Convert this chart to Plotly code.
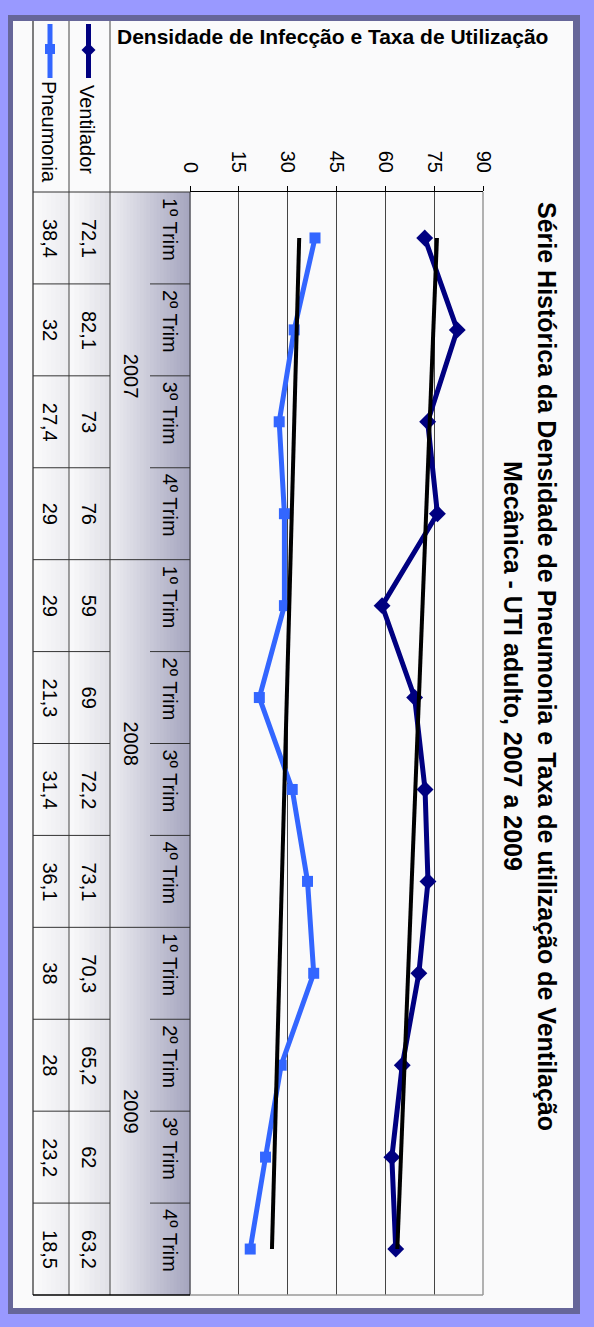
import numpy as np
import plotly.graph_objects as go

# ---------------- data ----------------
categories = ["1º Trim", "2º Trim", "3º Trim", "4º Trim"] * 3
years = ["2007", "2008", "2009"]
ventilador = [72.1, 82.1, 73, 76, 59, 69, 72.2, 73.1, 70.3, 65.2, 62, 63.2]
pneumonia = [38.4, 32, 27.4, 29, 29, 21.3, 31.4, 36.1, 38, 28, 23.2, 18.5]
value_ticks = [0, 15, 30, 45, 60, 75, 90]
title_top = "Densidade de Infecção e Taxa de Utilização"
title_l1 = "Série Histórica da Densidade de Pneumonia e Taxa de utilização de Ventilação"
title_l2 = "Mecânica - UTI adulto, 2007 a 2009"

W, H = 594, 1327
FONT = "Liberation Sans, Arial, sans-serif"
NAVY = "#000080"
BLUE = "#3366ff"

def px(x):
    return x / W

def py(y):
    return 1 - y / H

idx = list(range(1, len(categories) + 1))
n = len(idx)

# linear trend lines (as the spreadsheet's trendline)
kv = np.polyfit(idx, ventilador, 1)
kp = np.polyfit(idx, pneumonia, 1)
trend_v = np.polyval(kv, idx)
trend_p = np.polyval(kp, idx)

PL, PR, PT, PB = 190, 483, 192, 1295

fig = go.Figure()
fig.add_trace(go.Scatter(x=ventilador, y=idx, mode="lines+markers", name="Ventilador",
                         line=dict(color=NAVY, width=5),
                         marker=dict(symbol="diamond", size=13, color=NAVY)))
fig.add_trace(go.Scatter(x=pneumonia, y=idx, mode="lines+markers", name="Pneumonia",
                         line=dict(color=BLUE, width=5),
                         marker=dict(symbol="square", size=11, color=BLUE)))
fig.add_trace(go.Scatter(x=trend_v, y=idx, mode="lines", line=dict(color="black", width=4),
                         showlegend=False, hoverinfo="skip"))
fig.add_trace(go.Scatter(x=trend_p, y=idx, mode="lines", line=dict(color="black", width=4),
                         showlegend=False, hoverinfo="skip"))

shapes = []

def rect(x0, y0, x1, y1, fill, layer="below"):
    shapes.append(dict(type="rect", xref="paper", yref="paper",
                       x0=px(x0), x1=px(x1), y0=py(y0), y1=py(y1),
                       fillcolor=fill, line=dict(width=0), layer=layer))

def hexmix(c0, c1, t):
    a = [int(c0[i:i + 2], 16) for i in (1, 3, 5)]
    b = [int(c1[i:i + 2], 16) for i in (1, 3, 5)]
    return "#" + "".join(f"{round(a[k] + (b[k] - a[k]) * t):02x}" for k in range(3))

def grad(x0, x1, y0, y1, c0, c1, steps=20):
    w = (x1 - x0) / steps
    for s in range(steps):
        rect(x0 + s * w, y0, x0 + (s + 1) * w + 0.6, y1, hexmix(c0, c1, s / (steps - 1)))

def pline(x0, y0, x1, y1, color="black", width=1, layer="above"):
    shapes.append(dict(type="line", xref="paper", yref="paper",
                       x0=px(x0), x1=px(x1), y0=py(y0), y1=py(y1),
                       line=dict(color=color, width=width), layer=layer))

def yline(x0, x1, yv, color="black", width=1):
    shapes.append(dict(type="line", xref="paper", yref="y",
                       x0=px(x0), x1=px(x1), y0=yv, y1=yv,
                       line=dict(color=color, width=width), layer="above"))

# frame
rect(8, 15, 580, 1314, "#666699")
rect(13, 21, 573, 1308, "#fafafb")
# table backgrounds
grad(110, PL, PT, PB, "#ececf1", "#a6a6bf", 24)
grad(33, 69, PT, PB, "#fafafb", "#ececf0", 8)
grad(69, 110, PT, PB, "#f8f8fa", "#e2e2e8", 8)

# table lines
pline(33, 21, 33, PB)
pline(69, 21, 69, PB, "#444")
pline(110, 21, 110, PB, "#444")
pline(PL, PT, PL, PB, "#333")
pline(33, PT, PL, PT, "#333")
pline(33, PB, PL, PB, "black", 1.5)
pline(PL, PB, PR, PB, "#999", 1.5)
pline(PR, PT, PR, PB, "#999", 1.5)
for i in range(1, n):
    b = i + 0.5
    yline(33, 110, b, "#333")
    if i % 4 == 0:
        yline(110, PL, b, "#333")
    else:
        yline(150, PL, b, "#333")

# legend keys
pline(88.5, 24, 88.5, 78, NAVY, 5)
shapes.append(dict(type="path", xref="paper", yref="paper",
                   path=f"M {px(88.5)} {py(43)} L {px(95.5)} {py(50)} L {px(88.5)} {py(57)} L {px(81.5)} {py(50)} Z",
                   fillcolor=NAVY, line=dict(width=0), layer="above"))
pline(50, 24, 50, 78, BLUE, 5)
rect(45, 44, 55, 54, BLUE, layer="above")

ann = []

def text(x, y, s, size=20, bold=False, angle=90, yref="paper", yshift=0):
    ann.append(dict(x=px(x), y=(py(y) if yref == "paper" else y), xref="paper", yref=yref,
                    text=(f"<b>{s}</b>" if bold else s), showarrow=False, textangle=angle,
                    xanchor="center", yanchor="middle", yshift=yshift,
                    font=dict(family=FONT, size=size, color="black")))

text(332, 36, title_top, size=21, bold=True, angle=0)
text(547, 666, title_l1, size=25, bold=True)
text(513, 666, title_l2, size=25, bold=True)
text(87, 129, "Ventilador")
text(49, 132, "Pneumonia")

def fmt(v):
    return f"{v:g}".replace(".", ",")

for i in range(n):
    text(170, idx[i], categories[i], yref="y", yshift=8)
    text(89, idx[i], fmt(ventilador[i]), yref="y")
    text(50, idx[i], fmt(pneumonia[i]), yref="y")
for g, yr in enumerate(years):
    text(131, 4 * g + 2.5, yr, yref="y")

fig.update_layout(
    template="none",
    width=W, height=H, margin=dict(l=0, r=0, t=0, b=0, pad=0, autoexpand=False),
    paper_bgcolor="#9999ff", plot_bgcolor="white",
    showlegend=False, shapes=shapes, annotations=ann,
    font=dict(family=FONT, size=20, color="black"),
    xaxis=dict(domain=[px(PL), px(PR)], range=[0, 90], side="top", automargin=False,
               tickvals=value_ticks, ticktext=[str(v) for v in value_ticks],
               tickangle=90, ticks="outside", ticklen=5, tickcolor="black",
               showline=True, linecolor="black", linewidth=1,
               showgrid=True, gridcolor="#444", gridwidth=1, zeroline=False,
               tickfont=dict(family=FONT, size=20, color="black"),
               ticklabelstandoff=6, fixedrange=True),
    yaxis=dict(domain=[py(PB), py(PT)], range=[n + 0.5, 0.5], automargin=False,
               showticklabels=False, showgrid=False, zeroline=False,
               showline=False, ticks="", fixedrange=True),
)

fig.write_html("out.html",
               config={"displayModeBar": False, "staticPlot": True},
               post_script="document.body.style.margin='0px';"
                           "document.body.style.padding='0px';"
                           "document.body.style.overflow='hidden';")
